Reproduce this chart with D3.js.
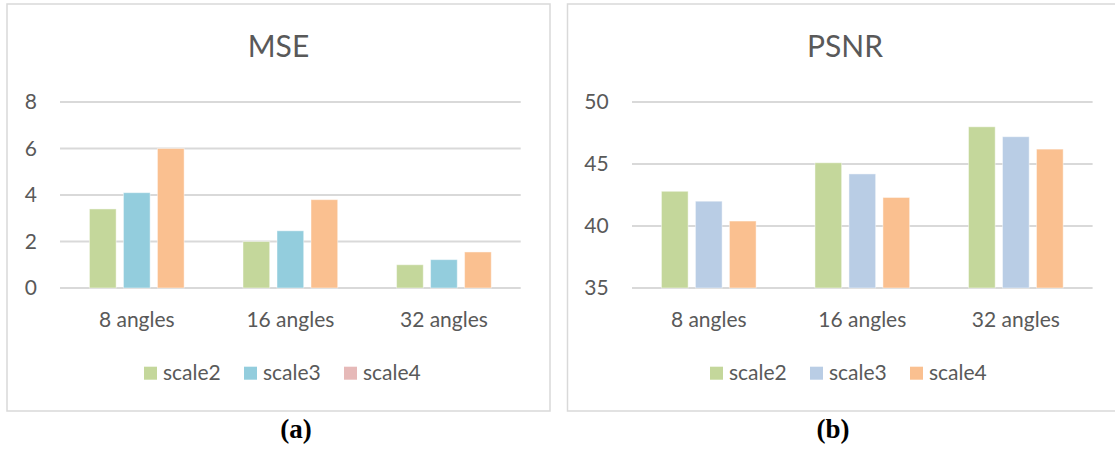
<!DOCTYPE html>
<html>
<head>
<meta charset="utf-8">
<script src="https://cdn.jsdelivr.net/npm/d3@7/dist/d3.min.js"></script>
<style>
  html, body { margin: 0; padding: 0; background: #fff; }
  svg { display: block; }
</style>
</head>
<body>
<svg id="chart" width="1115" height="450"></svg>
<script>
// ---- data ----
const categories = ["8 angles", "16 angles", "32 angles"];
const seriesNames = ["scale2", "scale3", "scale4"];

const mseScale2 = [3.4, 2.0, 1.0];
const mseScale3 = [4.1, 2.46, 1.22];
const mseScale4 = [6.0, 3.8, 1.55];
const mseTicks = [0, 2, 4, 6, 8];

const psnrScale2 = [42.8, 45.1, 48.0];
const psnrScale3 = [42.0, 44.2, 47.2];
const psnrScale4 = [40.4, 42.3, 46.2];
const psnrTicks = [35, 40, 45, 50];

// ---- styling / layout ----
const textColor = "#595959";
const gridColor = "#d9d9d9";
const font = "Lato, 'Open Sans', sans-serif";

const panels = [
  {
    title: "MSE", caption: "(a)",
    series: [mseScale2, mseScale3, mseScale4],
    ticks: mseTicks, domain: [0, 8],
    barColors: ["#c4d79b", "#93cddd", "#fac090"],
    legendColors: ["#c4d79b", "#93cddd", "#e6b9b8"],
    box: {x: 7, y: 4, w: 543, h: 407},
    plot: {x0: 60, x1: 520.7, y0: 288, y1: 102},
    titleX: 278.5, labelX: 37, legendX: 144, captionX: 296
  },
  {
    title: "PSNR", caption: "(b)",
    series: [psnrScale2, psnrScale3, psnrScale4],
    ticks: psnrTicks, domain: [35, 50],
    barColors: ["#c4d79b", "#b9cde5", "#fac090"],
    legendColors: ["#c4d79b", "#b9cde5", "#fac090"],
    box: {x: 567.5, y: 4, w: 560, h: 407},
    plot: {x0: 632, x1: 1092.6, y0: 288, y1: 102},
    titleX: 845, labelX: 608.6, legendX: 710, captionX: 833
  }
];

const svg = d3.select("#chart");

panels.forEach(p => {
  const g = svg.append("g");

  // border
  g.append("rect")
    .attr("x", p.box.x).attr("y", p.box.y)
    .attr("width", p.box.w).attr("height", p.box.h)
    .attr("fill", "#fff").attr("stroke", gridColor).attr("stroke-width", 1.5);

  // title
  g.append("text")
    .attr("x", p.titleX).attr("y", 57)
    .attr("text-anchor", "middle")
    .attr("font-family", font).attr("font-size", 30)
    .attr("fill", textColor)
    .text(p.title);

  const x0 = d3.scaleBand().domain(categories).range([p.plot.x0, p.plot.x1]).padding(0);
  const bw = x0.bandwidth();
  const x1 = d3.scaleBand().domain(seriesNames)
    .range([bw * 0.1917, bw * 0.8083]).paddingInner(0.215).paddingOuter(0);
  const y = d3.scaleLinear().domain(p.domain).range([p.plot.y0, p.plot.y1]);

  // gridlines
  g.append("g").selectAll("line").data(p.ticks).join("line")
    .attr("x1", p.plot.x0).attr("x2", p.plot.x1)
    .attr("y1", d => y(d)).attr("y2", d => y(d))
    .attr("stroke", gridColor).attr("stroke-width", 2);

  // y axis labels
  const yAxis = d3.axisLeft(y).tickValues(p.ticks).tickSize(0).tickPadding(0);
  const ya = g.append("g").attr("transform", `translate(${p.labelX},0)`).call(yAxis);
  ya.select(".domain").remove();
  ya.selectAll("text")
    .attr("font-family", font).attr("font-size", 21)
    .attr("fill", textColor);

  // bars
  seriesNames.forEach((s, si) => {
    g.append("g").selectAll("rect").data(p.series[si]).join("rect")
      .attr("x", (d, i) => x0(categories[i]) + x1(s))
      .attr("width", x1.bandwidth())
      .attr("y", d => y(d))
      .attr("height", d => y(p.domain[0]) - y(d))
      .attr("fill", p.barColors[si])
      .attr("stroke", "#ffffff").attr("stroke-opacity", 0.45).attr("stroke-width", 1);
  });

  // category labels
  const xAxis = d3.axisBottom(x0).tickSize(0).tickPadding(0);
  const xa = g.append("g").attr("transform", `translate(0,${p.plot.y0})`).call(xAxis);
  xa.select(".domain").remove();
  xa.selectAll("text")
    .attr("font-family", font).attr("font-size", 21)
    .attr("fill", textColor)
    .attr("dy", null).attr("y", 39);

  // legend
  const lg = g.append("g");
  seriesNames.forEach((s, si) => {
    const lx = p.legendX + si * 100;
    lg.append("rect")
      .attr("x", lx).attr("y", 366.7).attr("width", 13).attr("height", 13)
      .attr("fill", p.legendColors[si]);
    lg.append("text")
      .attr("x", lx + 19).attr("y", 380)
      .attr("font-family", font).attr("font-size", 21)
      .attr("fill", textColor)
      .text(s);
  });

  // caption
  svg.append("text")
    .attr("x", p.captionX).attr("y", 438)
    .attr("text-anchor", "middle")
    .attr("font-family", "'Liberation Serif', 'Times New Roman', serif")
    .attr("font-weight", "bold").attr("font-size", 27)
    .attr("fill", "#000")
    .text(p.caption);
});
</script>
</body>
</html>
